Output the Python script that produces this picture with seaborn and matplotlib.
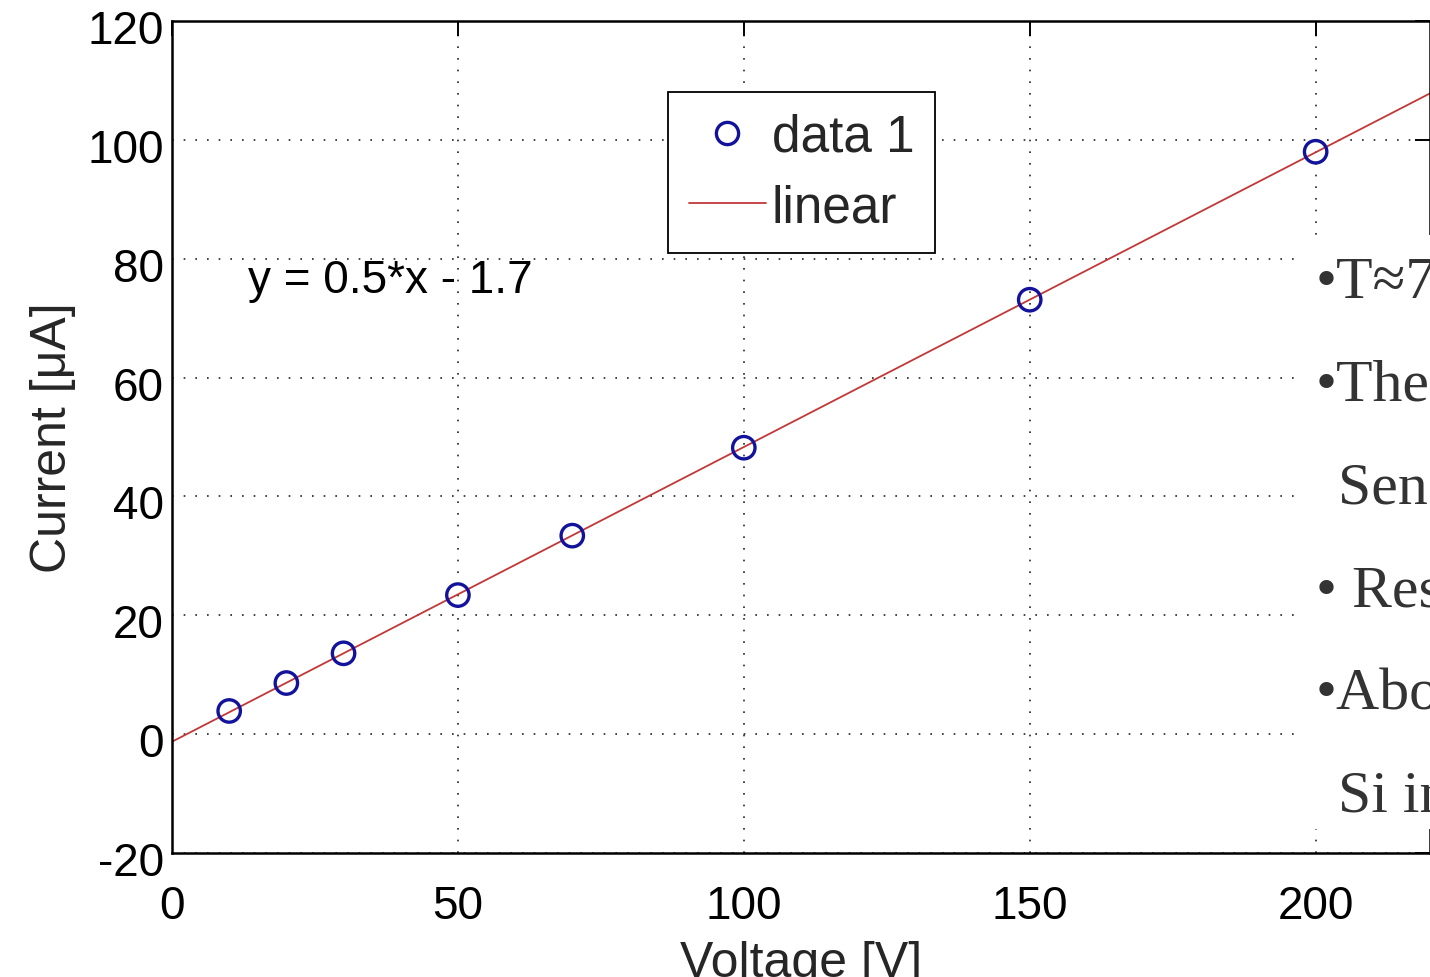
import matplotlib
matplotlib.use("Agg")
import matplotlib.pyplot as plt
import matplotlib.transforms as mtransforms
import seaborn as sns
from matplotlib.lines import Line2D
from matplotlib.patches import Rectangle

# ---- data ----
voltage = [10, 20, 30, 50, 70, 100, 150, 200]
current = [3.9, 8.6, 13.6, 23.4, 33.4, 48.2, 73.1, 98.0]
fit_slope = 0.5
fit_intercept = -1.7
x_ticks = [0, 50, 100, 150, 200]
y_ticks = [-20, 0, 20, 40, 60, 80, 100, 120]
legend_labels = ["data 1", "linear"]
note_lines = ["•T≈7", "•The", "Sens", "• Res", "•Abo", "Si in"]

W, H = 1430, 978
NAVY = "#12129a"
RED = "#c23838"

sns.set_style("white")
plt.rcParams["font.family"] = ["Liberation Sans", "DejaVu Sans"]
plt.rcParams["axes.unicode_minus"] = False

fig = plt.figure(figsize=(W / 100, H / 100), dpi=100)
ax = fig.add_axes([172 / W, 1 - 854 / H, 1 - 172 / W, (854 - 22) / H])

ax.set_xlim(0, 220)
ax.set_ylim(-20, 120)

# fitted line (seaborn regression across the full axis width)
sns.regplot(x=voltage, y=current, ci=None, truncate=False, scatter=False,
            line_kws=dict(color=RED, lw=1.3, zorder=2), ax=ax)

# data points
sns.scatterplot(x=voltage, y=current, marker="o", s=260, color=NAVY,
                linewidth=2.4, ax=ax, zorder=3)
ax.collections[-1].set_facecolor("none")
ax.collections[-1].set_edgecolor(NAVY)

ax.set_xlim(0, 220)
ax.set_ylim(-20, 120)
ax.set_xticks(x_ticks)
ax.set_yticks(y_ticks)

ax.grid(True, linestyle=(0, (1, 6)), linewidth=1.2, color="#222222")
ax.set_axisbelow(True)

for s in ax.spines.values():
    s.set_color("black")
    s.set_linewidth(1.8)
    s.set_visible(True)

ax.tick_params(direction="in", length=11, width=1.4, top=True, right=True,
               labelsize=33, colors="black")
ax.tick_params(axis="x", pad=22)
ax.tick_params(axis="y", pad=6)
shift = mtransforms.ScaledTranslation(0, -5 / 100, fig.dpi_scale_trans)
for lab in ax.get_yticklabels():
    lab.set_transform(lab.get_transform() + shift)

ax.set_xlabel("Voltage [V]", fontsize=36, labelpad=9)
ax.set_ylabel("Current [μA]", fontsize=36, labelpad=8)

ax.text(13.3, 76.5, f"y = {fit_slope}*x - {abs(fit_intercept)}",
        fontsize=33, va="center", ha="left", color="black")

handles = [
    Line2D([], [], marker="o", ls="none", mfc="none", mec=NAVY, mew=2.4, ms=16),
    Line2D([], [], color=RED, lw=1.3),
]
leg = ax.legend(handles, legend_labels, loc="upper left",
                bbox_to_anchor=(668 / W, 1 - 93 / H), bbox_transform=fig.transFigure,
                fontsize=37, frameon=True, fancybox=False, edgecolor="black",
                framealpha=1, borderpad=0.4, labelspacing=0.42,
                handlelength=1.5, handletextpad=0.12, borderaxespad=0)
leg.get_frame().set_linewidth(1.3)

# overlaid slide text box on the right
fig.add_artist(Rectangle((1297 / W, 1 - 830 / H), (W - 1297) / W + 0.01, (830 - 236) / H,
                         transform=fig.transFigure, facecolor="white",
                         edgecolor="none", zorder=5))
for i, line in enumerate(note_lines):
    x0 = 1338 if not line.startswith("•") else 1316
    fig.text(x0 / W, 1 - (298 + i * 102.8) / H, line,
             family=["Liberation Serif", "DejaVu Serif"], fontsize=43,
             color="#333333", va="baseline", ha="left", zorder=6)

fig.savefig("out.png", dpi=100)
